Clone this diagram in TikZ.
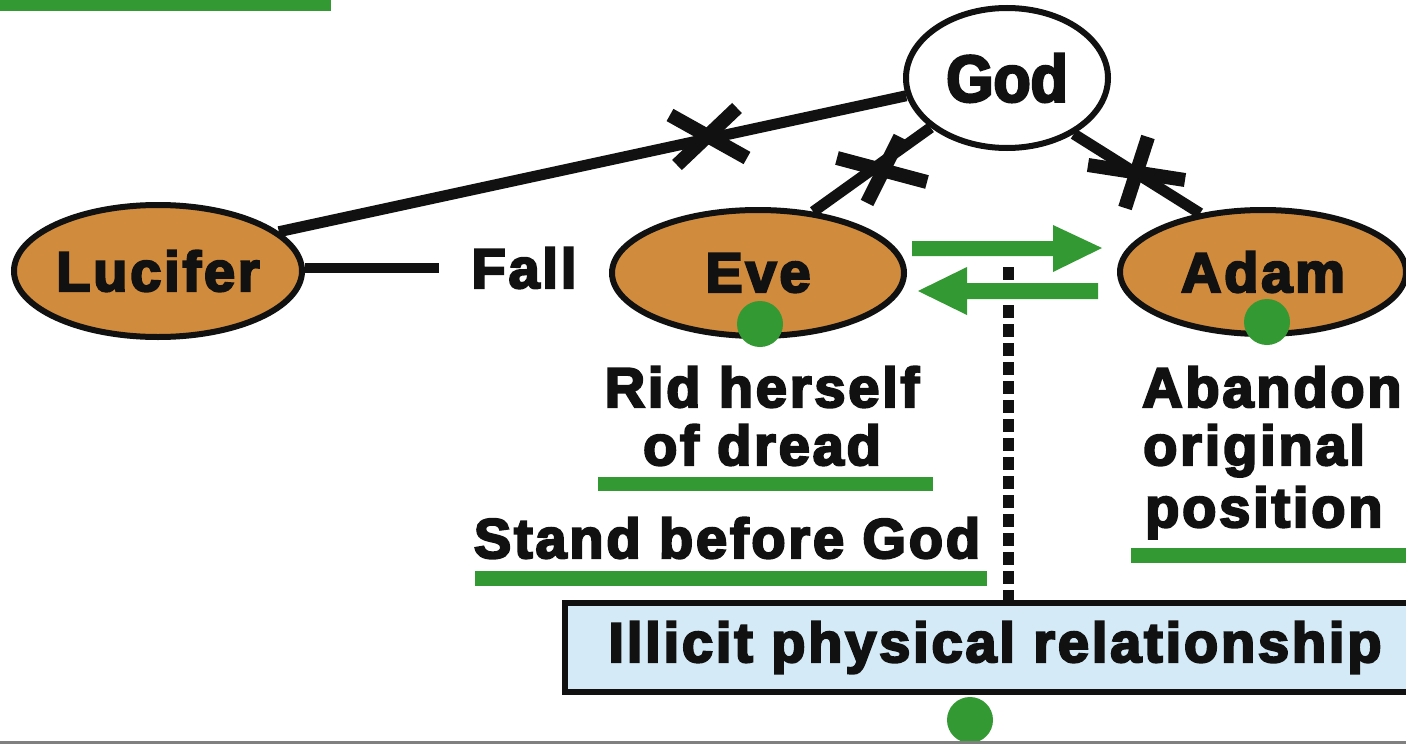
\documentclass[tikz,border=0pt]{standalone}
\usepackage{fontspec}
\setmainfont{Liberation Sans}
\newfontfamily\lblfont{Liberation Sans}[UprightFont=* Bold,LetterSpace=5,FakeBold=4]
\newfontfamily\godfont{Liberation Sans}[UprightFont=* Bold,FakeStretch=0.92,FakeBold=4]
\usetikzlibrary{shapes.geometric}
\definecolor{gr}{HTML}{339933}
\definecolor{orng}{HTML}{D08B3D}
\definecolor{lblue}{HTML}{D4EAF6}
\definecolor{ink}{HTML}{111111}
\begin{document}
\begin{tikzpicture}[x=1pt,y=-1pt,
  lbl/.style={font=\lblfont\fontsize{56}{60}\selectfont, text=ink, inner sep=0pt},
  person/.style={ellipse, draw=ink, line width=6pt, fill=orng, inner sep=0pt, lbl},
  link/.style={draw=ink, line width=11pt},
  xbar/.style={draw=ink, line width=14pt},
  uline/.style={fill=gr},
  gdot/.style={circle, fill=gr, inner sep=0pt, minimum size=46pt}]
\useasboundingbox (0,0) rectangle (1406,744);
\clip (0,0) rectangle (1406,744);
\fill[white] (0,0) rectangle (1406,744);

% top-left green bar
\fill[uline] (0,0) rectangle (331,11);

% nodes
\node[person, fill=white, minimum width=202pt, minimum height=140pt,
      font=\godfont\fontsize{66}{70}\selectfont] (god) at (1007,78) {God};
\node[person, minimum width=288pt, minimum height=132pt] (luc) at (158,271) {Lucifer};
\node[person, minimum width=292pt, minimum height=126pt] (eve) at (758,273) {Eve};
\node[person, minimum width=286pt, minimum height=124pt] (adam) at (1263,272) {Adam};
\node[lbl] (fall) at (524,268) {Fall};

\node[draw=ink, line width=5.5pt, fill=lblue, minimum width=860pt, minimum height=89pt,
      lbl] (box) at (995,647.5) {Illicit physical relationship};

% connectors
\draw[link] (luc.18) -- (god.190);
\draw[link] (eve.48) -- (god.213);
\draw[link] (adam.137) -- (god.320);
\coordinate (fallend) at ([xshift=-32pt]fall.west);
\draw[link, line width=10pt] (luc.east |- fall.west) -- (fallend);

% crosses
\draw[xbar] (670,115) -- (747,158);
\draw[xbar] (677,165) -- (737,108);
\draw[xbar] (837,158) -- (927,182);
\draw[xbar] (867,203) -- (900,137);
\draw[xbar] (1088,165) -- (1185,180);
\draw[xbar] (1148,137) -- (1125,208);

% dotted divider
\coordinate (dtop) at (1008,267);
\draw[draw=ink, line width=11pt, dash pattern=on 13pt off 6pt] (dtop) -- (dtop |- box.north);

% green arrows
\fill[gr] (912,241) -- (1053,241) -- (1053,225) -- (1102,248) -- (1053,272) -- (1053,256) -- (912,256) -- cycle;
\fill[gr] (1098,283) -- (967,283) -- (967,267) -- (918,291) -- (967,315) -- (967,299) -- (1098,299) -- cycle;

% labels
\node[lbl, anchor=base] (rid1) at (762,407) {Rid herself};
\node[lbl, anchor=base] (rid2) at (762,465) {of dread};
\node[lbl, anchor=base] (stand) at (727,558) {Stand before God};
\node[lbl, anchor=base west] (ab1) at (1142,407) {Abandon};
\node[lbl, anchor=base west] (ab2) at (1143,465) {original};
\node[lbl, anchor=base west] (ab3) at (1145,527) {position};

% underlines
\fill[uline] (598,477) rectangle (933,491);
\fill[uline] (475,571) rectangle (987,586);
\fill[uline] (1131,548) rectangle (1406,563);

% green dots
\node[gdot] (d1) at (760,324) {};
\node[gdot] (d2) at (1267,322) {};
\node[gdot] (d3) at (970,720) {};

% bottom rule
\draw[gray, line width=3pt] (0,742.5) -- (1406,742.5);
\end{tikzpicture}
\end{document}
